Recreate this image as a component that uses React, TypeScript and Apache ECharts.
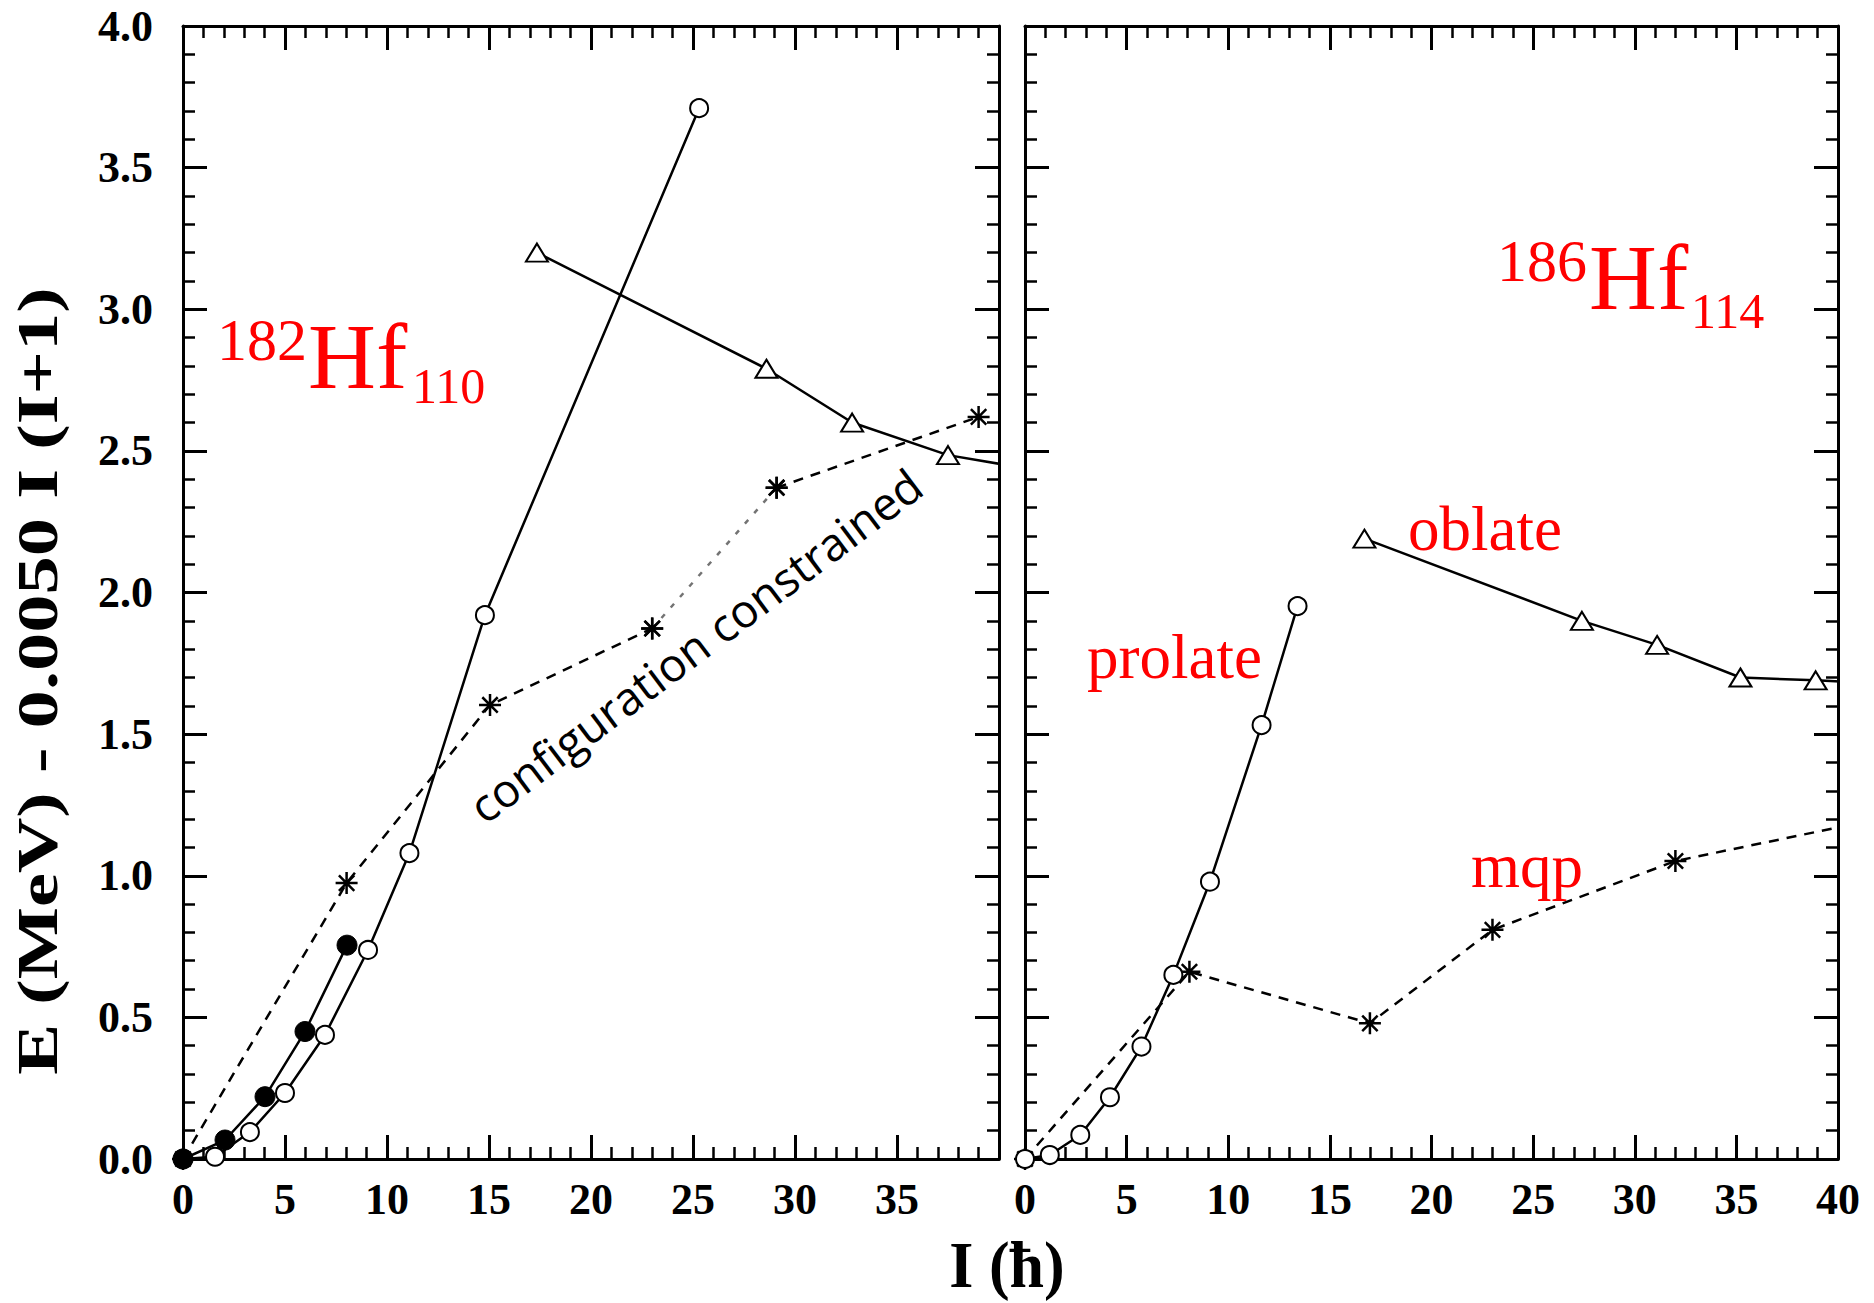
import React, { useEffect, useRef } from "react";
import * as echarts from "echarts";

// ---------- data (I in hbar, E - 0.0050 I(I+1) in MeV) ----------
// 182Hf (left panel)
const hf182GroundI = [0, 2.06, 4.02, 5.98, 8.04];
const hf182GroundE = [0, 0.067, 0.22, 0.45, 0.755];
const hf182ProlateI = [0, 1.57, 3.28, 5.0, 6.96, 9.07, 11.1, 14.8, 25.3];
const hf182ProlateE = [0, 0.008, 0.095, 0.233, 0.438, 0.738, 1.08, 1.92, 3.71];
const hf182OblateI = [17.35, 28.6, 32.8, 37.5, 42];
const hf182OblateE = [3.2, 2.79, 2.6, 2.485, 2.43];
const hf182ConfigI = [0, 8.02, 15.05, 23.0, 29.1, 39.0];
const hf182ConfigE = [0, 0.974, 1.603, 1.873, 2.37, 2.62];
// 186Hf (right panel)
const hf186ProlateI = [0, 1.22, 2.72, 4.18, 5.73, 7.3, 9.1, 11.64, 13.41];
const hf186ProlateE = [0, 0.014, 0.085, 0.218, 0.397, 0.65, 0.979, 1.532, 1.952];
const hf186OblateI = [16.7, 27.4, 31.1, 35.2, 38.9, 42];
const hf186OblateE = [2.19, 1.9, 1.815, 1.7, 1.69, 1.68];
const hf186MqpI = [0, 8.09, 16.97, 23.0, 32.0, 44];
const hf186MqpE = [0, 0.661, 0.479, 0.809, 1.052, 1.23];

const xTicks = [0, 5, 10, 15, 20, 25, 30, 35, 40];
const yTicks = [0, 0.5, 1, 1.5, 2, 2.5, 3, 3.5, 4];

const zip = (xs: number[], ys: number[]) => xs.map((x, i) => [x, ys[i]]);

const SERIF = '"Liberation Serif", "Times New Roman", serif';
const STAR = "path://M10 0 L10 20 M0 10 L20 10 M3 3 L17 17 M3 17 L17 3";

function xAxisCfg(gridIndex: number, position: string, showLabels: boolean, hideLast: boolean) {
  return {
    type: "value",
    gridIndex,
    position,
    min: xTicks[0],
    max: xTicks[xTicks.length - 1],
    interval: xTicks[1] - xTicks[0],
    axisLine: { show: true, onZero: false, lineStyle: { color: "#000", width: 3 } },
    axisTick: { show: true, inside: true, length: 24, lineStyle: { color: "#000", width: 3 } },
    minorTick: { show: true, splitNumber: 5, length: 12, lineStyle: { color: "#000", width: 2.5 } },
    splitLine: { show: false },
    axisLabel: {
      show: showLabels,
      margin: 18,
      color: "#000",
      fontFamily: SERIF,
      fontWeight: "bold",
      fontSize: 44,
      formatter: (v: number) => (hideLast && v === 40 ? "" : String(v)),
    },
  };
}

function yAxisCfg(gridIndex: number, position: string, showLabels: boolean) {
  return {
    type: "value",
    gridIndex,
    position,
    min: yTicks[0],
    max: yTicks[yTicks.length - 1],
    interval: yTicks[1] - yTicks[0],
    axisLine: { show: true, onZero: false, lineStyle: { color: "#000", width: 3 } },
    axisTick: { show: true, inside: true, length: 24, lineStyle: { color: "#000", width: 3 } },
    minorTick: { show: true, splitNumber: 5, length: 12, lineStyle: { color: "#000", width: 2.5 } },
    splitLine: { show: false },
    axisLabel: {
      show: showLabels,
      margin: 30,
      color: "#000",
      fontFamily: SERIF,
      fontWeight: "bold",
      fontSize: 44,
      formatter: (v: number) => v.toFixed(1),
    },
  };
}

function lineSeries(name: string, axis: number, data: number[][], opts: any) {
  return {
    name,
    type: "line",
    xAxisIndex: axis,
    yAxisIndex: axis,
    data,
    clip: true,
    lineStyle: { color: "#000", width: 2.5, type: opts.dash || "solid", opacity: opts.opacity ?? 1 },
    symbol: opts.symbol || "none",
    symbolSize: opts.symbolSize || 18,
    itemStyle: opts.itemStyle || { color: "#fff", borderColor: "#000", borderWidth: 2 },
    z: opts.z || 3,
  };
}

const openStyle = { color: "#fff", borderColor: "#000", borderWidth: 2 };
const starStyle = { color: "#000", borderColor: "#000", borderWidth: 2.5 };

function redText(text: string, x: number, y: number, size: number) {
  return {
    type: "text",
    x,
    y,
    z: 10,
    style: {
      text,
      fill: "#ff0000",
      fontFamily: SERIF,
      fontSize: size,
      align: "left",
      verticalAlign: "middle",
    },
  };
}

export default function App() {
  const ref = useRef<HTMLDivElement>(null);
  useEffect(() => {
    const chart = echarts.init(ref.current!, null, { renderer: "svg" });
    const option: any = {
      animation: false,
      backgroundColor: "#fff",
      grid: [
        { left: 183, top: 26, width: 816, height: 1133 },
        { left: 1025, top: 26, width: 813, height: 1133 },
      ],
      xAxis: [
        xAxisCfg(0, "bottom", true, true),
        xAxisCfg(1, "bottom", true, false),
        xAxisCfg(0, "top", false, false),
        xAxisCfg(1, "top", false, false),
      ],
      yAxis: [
        yAxisCfg(0, "left", true),
        yAxisCfg(1, "left", false),
        yAxisCfg(0, "right", false),
        yAxisCfg(1, "right", false),
      ],
      series: [
        // left panel
        lineSeries("182Hf config constrained a", 0, zip(hf182ConfigI, hf182ConfigE).slice(0, 4), {
          dash: [10, 8], symbol: STAR, symbolSize: 22, itemStyle: starStyle,
        }),
        lineSeries("182Hf config constrained b", 0, zip(hf182ConfigI, hf182ConfigE).slice(3, 5), {
          dash: [5, 9], opacity: 0.55, symbol: STAR, symbolSize: 22, itemStyle: starStyle,
        }),
        lineSeries("182Hf config constrained c", 0, zip(hf182ConfigI, hf182ConfigE).slice(4), {
          dash: [10, 8], symbol: STAR, symbolSize: 22, itemStyle: starStyle,
        }),
        lineSeries("182Hf prolate", 0, zip(hf182ProlateI, hf182ProlateE), {
          symbol: "circle", symbolSize: 18, itemStyle: openStyle, z: 4,
        }),
        lineSeries("182Hf oblate", 0, zip(hf182OblateI, hf182OblateE), {
          symbol: "triangle", symbolSize: [22, 18], itemStyle: openStyle, z: 4,
        }),
        lineSeries("182Hf ground", 0, zip(hf182GroundI, hf182GroundE), {
          symbol: "circle", symbolSize: 20, itemStyle: { color: "#000", borderColor: "#000", borderWidth: 1 }, z: 5,
        }),
        // right panel
        lineSeries("186Hf mqp", 1, zip(hf186MqpI, hf186MqpE), {
          dash: [10, 8], symbol: STAR, symbolSize: 22, itemStyle: starStyle,
        }),
        lineSeries("186Hf prolate", 1, zip(hf186ProlateI, hf186ProlateE), {
          symbol: "circle", symbolSize: 18, itemStyle: openStyle, z: 4,
        }),
        lineSeries("186Hf oblate", 1, zip(hf186OblateI, hf186OblateE), {
          symbol: "triangle", symbolSize: [22, 18], itemStyle: openStyle, z: 4,
        }),
      ],
      graphic: [
        // axis titles
        {
          type: "text",
          x: 37,
          y: 681,
          rotation: Math.PI / 2,
          scaleX: 1.32,
          style: {
            text: "E (MeV) - 0.0050 I (I+1)",
            fill: "#000",
            fontFamily: SERIF,
            fontWeight: "bold",
            fontSize: 58,
            align: "center",
            verticalAlign: "middle",
          },
        },
        {
          type: "text",
          x: 1007,
          y: 1265,
          scaleY: 1.05,
          style: {
            text: "I (ħ)",
            fill: "#000",
            fontFamily: SERIF,
            fontWeight: "bold",
            fontSize: 62,
            align: "center",
            verticalAlign: "middle",
          },
        },
        // nucleus labels
        redText("182", 217, 340, 60),
        redText("Hf", 308, 356, 94),
        redText("110", 412, 386, 50),
        redText("186", 1497, 261, 60),
        redText("Hf", 1589, 277, 94),
        redText("114", 1691, 311, 50),
        redText("prolate", 1087, 657, 63),
        redText("oblate", 1408, 529, 63),
        redText("mqp", 1471, 866, 63),
        {
          type: "text",
          x: 695,
          y: 645,
          rotation: (37 * Math.PI) / 180,
          z: 10,
          style: {
            text: "configuration constrained",
            fill: "#000",
            fontFamily: '"Open Sans", "Noto Sans", sans-serif',
            fontSize: 46,
            align: "center",
            verticalAlign: "middle",
          },
        },
      ],
    };
    chart.setOption(option);
    return () => chart.dispose();
  }, []);
  return (
    <div
      ref={ref}
      style={{ position: "fixed", left: 0, top: 0, width: 1874, height: 1303, background: "#fff" }}
    />
  );
}
